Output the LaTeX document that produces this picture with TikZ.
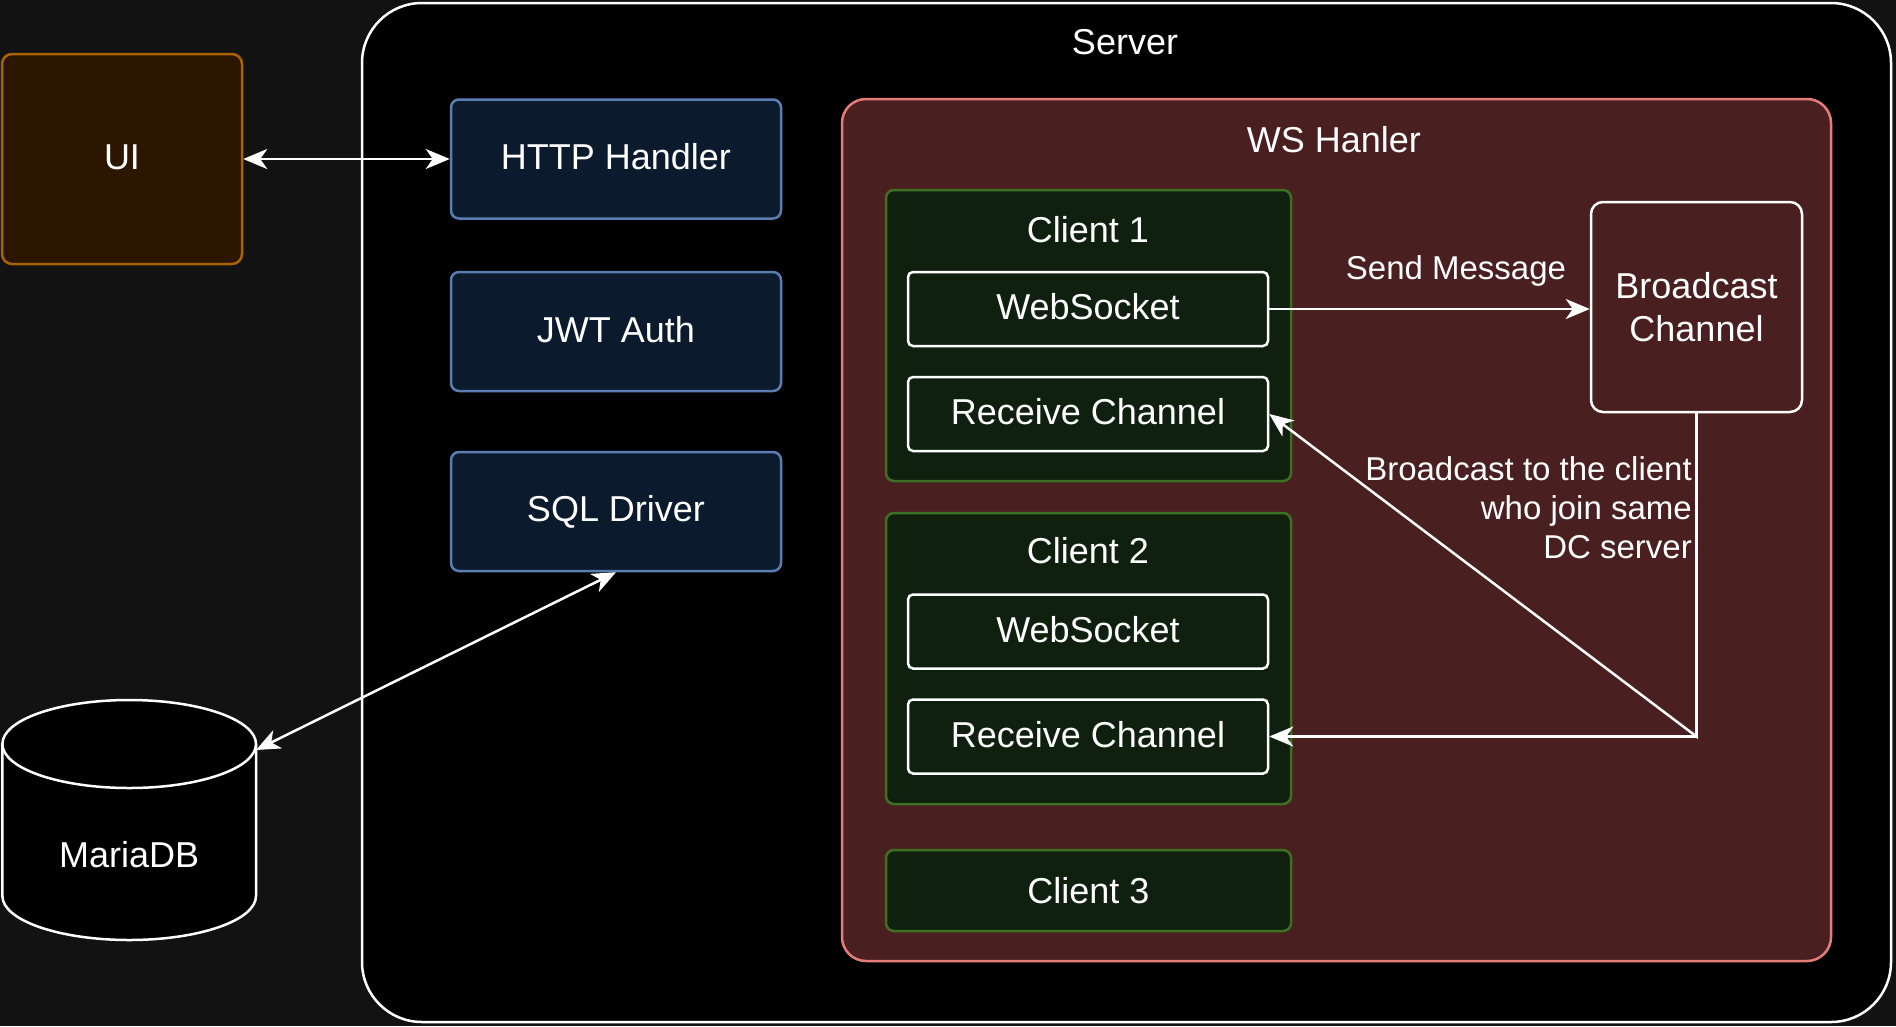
\documentclass[tikz,border=0pt]{standalone}
\usepackage{fontspec}
\setmainfont{Liberation Sans}
\usetikzlibrary{arrows.meta}
\definecolor{bgc}{HTML}{121212}
\definecolor{uifill}{HTML}{2D1600}
\definecolor{uistroke}{HTML}{A86400}
\definecolor{bluefill}{HTML}{0C1A2D}
\definecolor{bluestroke}{HTML}{5B7DB1}
\definecolor{wsfill}{HTML}{4A1F1F}
\definecolor{wsstroke}{HTML}{E47C7A}
\definecolor{clfill}{HTML}{10200F}
\definecolor{clstroke}{HTML}{3E7024}
\tikzset{mytip/.tip={Stealth[length=24pt, width=20pt, inset=7pt]}}
\begin{document}
\begin{tikzpicture}[x=1pt,y=-1pt,
  lbl/.style={text=white, font=\fontsize{36}{43}\selectfont, inner sep=0pt},
  elbl/.style={text=white, font=\fontsize{33}{39}\selectfont, inner sep=0pt},
  box/.style={draw, line width=2.5pt, rounded corners=8pt, inner sep=0pt, text=white, font=\fontsize{36}{43}\selectfont, align=center},
  lift/.style={text height=26pt, text depth=5pt},
  bluebox/.style={box, draw=bluestroke, fill=bluefill, minimum width=330pt, minimum height=119pt},
  clientbox/.style={box, draw=clstroke, fill=clfill, minimum width=405pt},
  innerbox/.style={box, lift, draw=white, fill=clfill, minimum width=360pt, minimum height=74pt, rounded corners=5pt},
  conn/.style={draw=white, line width=2.5pt}
]
\fill[bgc] (0,0) rectangle (1896,1026);
\useasboundingbox (0,0) rectangle (1896,1026);

% Server container
\node[box, draw=white, fill=black, rounded corners=60pt, minimum width=1529pt, minimum height=1019pt] (server) at (1126.5,512.5) {};
\node[lbl] (serverlbl) at (1125,42) {Server};

% UI
\node[box, lift, draw=uistroke, fill=uifill, minimum width=240pt, minimum height=210pt, rounded corners=10pt] (ui) at (122,159) {UI};

% Blue boxes
\node[bluebox, lift] (http) at (616,159) {HTTP Handler};
\node[bluebox, lift] (jwt) at (616,331.5) {JWT Auth};
\node[bluebox] (sql) at (616,511.5) {SQL Driver};

% WS handler
\node[box, draw=wsstroke, fill=wsfill, rounded corners=24pt, minimum width=989pt, minimum height=862pt] (ws) at (1336.5,530) {};
\node[lbl] (wslbl) at (1334,140) {WS Hanler};

% Clients
\node[clientbox, minimum height=291pt] (c1) at (1088.5,335.5) {};
\node[lbl] (c1lbl) at (1088,230) {Client 1};
\node[innerbox] (ws1) at (1088,309) {WebSocket};
\node[innerbox] (rc1) at (1088,414) {Receive Channel};

\node[clientbox, minimum height=291pt] (c2) at (1088.5,658.5) {};
\node[lbl] (c2lbl) at (1088,551) {Client 2};
\node[innerbox] (ws2) at (1088,631.5) {WebSocket};
\node[innerbox] (rc2) at (1088,736.5) {Receive Channel};

\node[clientbox, minimum height=81pt] (c3) at (1088.5,890.5) {Client 3};

% Broadcast channel
\node[box, draw=white, fill=wsfill, minimum width=211pt, minimum height=210pt, rounded corners=12pt] (bc) at (1696.5,307) {Broadcast\\Channel};

% MariaDB cylinder
\filldraw[draw=white, fill=black, line width=2.5pt]
  (2.4,744) -- (2.4,896) arc[start angle=180, end angle=360, x radius=126.8pt, y radius=44pt] -- (256,744);
\filldraw[draw=white, fill=black, line width=2.5pt] (129.2,744) ellipse[x radius=126.8pt, y radius=44pt];
\node[lbl] (mariadb) at (129.2,855) {MariaDB};
\coordinate (dbR) at (256,750);

% Connectors
\draw[conn, {mytip}-{mytip}] (ui.east) -- (http.west);
\draw[conn, {mytip}-{mytip}] (sql.south) -- (dbR);
\draw[conn, -{mytip}] (ws1.east) -- (ws1.east -| bc.west);
\coordinate (bend) at (bc.south |- rc2.east);
\draw[conn, -{mytip}] (bc.south) -- (bend) -- (rc2.east);
\draw[conn, -{mytip}] (bc.south) -- (bend) -- (rc1.east);

% Edge labels
\node[elbl] (sendlbl) at (1456,271) {Send Message};
\node[elbl, anchor=east, align=right] (bcastlbl) at (1692,508) {Broadcast to the client\\who join same\\DC server};
\end{tikzpicture}
\end{document}
